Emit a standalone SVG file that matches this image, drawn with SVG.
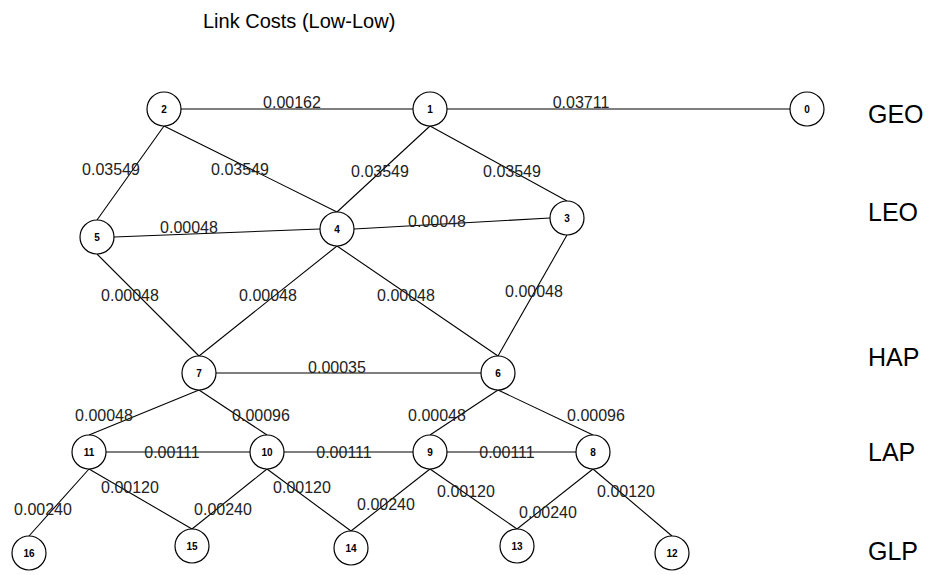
<svg xmlns="http://www.w3.org/2000/svg" width="932" height="575" viewBox="0 0 932 575">
<style>
.n circle{fill:#fff;stroke:#000;stroke-width:1.2}
.n text{font-family:"Liberation Sans",Arial,sans-serif;font-size:10px;font-weight:bold;text-anchor:middle}
#edges line{stroke:#000;stroke-width:1.1}
.lbl{font-family:"Liberation Sans",Arial,sans-serif;font-size:16px;fill:#222;text-anchor:middle}
.layer{font-family:"Liberation Sans",Arial,sans-serif;font-size:25px;fill:#000}
.title{font-family:"Liberation Sans",Arial,sans-serif;font-size:20px;fill:#000}
</style>
<rect width="932" height="575" fill="#fff"/>
<text class="title" x="203" y="28">Link Costs (Low-Low)</text>
<g id="edges">
<line x1="181" y1="109" x2="413" y2="109"/>
<line x1="447" y1="109" x2="790" y2="109"/>
<line x1="164" y1="126" x2="97" y2="220"/>
<line x1="164" y1="126" x2="337" y2="212"/>
<line x1="430" y1="126" x2="337" y2="212"/>
<line x1="430" y1="126" x2="567" y2="201"/>
<line x1="114" y1="237" x2="320" y2="229"/>
<line x1="354" y1="229" x2="550" y2="218"/>
<line x1="97" y1="254" x2="199" y2="356"/>
<line x1="337" y1="246" x2="199" y2="356"/>
<line x1="337" y1="246" x2="498" y2="356"/>
<line x1="567" y1="235" x2="498" y2="356"/>
<line x1="216" y1="373" x2="481" y2="373"/>
<line x1="199" y1="390" x2="89" y2="435"/>
<line x1="199" y1="390" x2="267" y2="435"/>
<line x1="498" y1="390" x2="430" y2="435"/>
<line x1="498" y1="390" x2="593" y2="435"/>
<line x1="106" y1="452" x2="250" y2="452"/>
<line x1="284" y1="452" x2="413" y2="452"/>
<line x1="447" y1="452" x2="576" y2="452"/>
<line x1="89" y1="469" x2="29" y2="536"/>
<line x1="89" y1="469" x2="192" y2="529"/>
<line x1="267" y1="469" x2="192" y2="529"/>
<line x1="267" y1="469" x2="351" y2="531"/>
<line x1="430" y1="469" x2="351" y2="531"/>
<line x1="430" y1="469" x2="517" y2="529"/>
<line x1="593" y1="469" x2="517" y2="529"/>
<line x1="593" y1="469" x2="672" y2="536"/>
</g>
<g id="labels">
<text class="lbl" x="292" y="108">0.00162</text>
<text class="lbl" x="581" y="108">0.03711</text>
<text class="lbl" x="111" y="175">0.03549</text>
<text class="lbl" x="240" y="175">0.03549</text>
<text class="lbl" x="380" y="177">0.03549</text>
<text class="lbl" x="512" y="177">0.03549</text>
<text class="lbl" x="189" y="233">0.00048</text>
<text class="lbl" x="437" y="227">0.00048</text>
<text class="lbl" x="130" y="301">0.00048</text>
<text class="lbl" x="268" y="301">0.00048</text>
<text class="lbl" x="406" y="301">0.00048</text>
<text class="lbl" x="534" y="297">0.00048</text>
<text class="lbl" x="337" y="373">0.00035</text>
<text class="lbl" x="104" y="421">0.00048</text>
<text class="lbl" x="261" y="421">0.00096</text>
<text class="lbl" x="437" y="421">0.00048</text>
<text class="lbl" x="596" y="421">0.00096</text>
<text class="lbl" x="172" y="458">0.00111</text>
<text class="lbl" x="344" y="458">0.00111</text>
<text class="lbl" x="507" y="458">0.00111</text>
<text class="lbl" x="130" y="493">0.00120</text>
<text class="lbl" x="302" y="493">0.00120</text>
<text class="lbl" x="466" y="497">0.00120</text>
<text class="lbl" x="626" y="497">0.00120</text>
<text class="lbl" x="43" y="515">0.00240</text>
<text class="lbl" x="223" y="515">0.00240</text>
<text class="lbl" x="386" y="510">0.00240</text>
<text class="lbl" x="548" y="518">0.00240</text>
</g>
<g id="n0" class="n"><circle cx="807" cy="109" r="17"/><text x="807" y="113">0</text></g>
<g id="n1" class="n"><circle cx="430" cy="109" r="17"/><text x="430" y="113">1</text></g>
<g id="n2" class="n"><circle cx="164" cy="109" r="17"/><text x="164" y="113">2</text></g>
<g id="n3" class="n"><circle cx="567" cy="218" r="17"/><text x="567" y="222">3</text></g>
<g id="n4" class="n"><circle cx="337" cy="229" r="17"/><text x="337" y="233">4</text></g>
<g id="n5" class="n"><circle cx="97" cy="237" r="17"/><text x="97" y="241">5</text></g>
<g id="n6" class="n"><circle cx="498" cy="373" r="17"/><text x="498" y="377">6</text></g>
<g id="n7" class="n"><circle cx="199" cy="373" r="17"/><text x="199" y="377">7</text></g>
<g id="n8" class="n"><circle cx="593" cy="452" r="17"/><text x="593" y="456">8</text></g>
<g id="n9" class="n"><circle cx="430" cy="452" r="17"/><text x="430" y="456">9</text></g>
<g id="n10" class="n"><circle cx="267" cy="452" r="17"/><text x="267" y="456">10</text></g>
<g id="n11" class="n"><circle cx="89" cy="452" r="17"/><text x="89" y="456">11</text></g>
<g id="n12" class="n"><circle cx="672" cy="553" r="17"/><text x="672" y="557">12</text></g>
<g id="n13" class="n"><circle cx="517" cy="546" r="17"/><text x="517" y="550">13</text></g>
<g id="n14" class="n"><circle cx="351" cy="548" r="17"/><text x="351" y="552">14</text></g>
<g id="n15" class="n"><circle cx="192" cy="546" r="17"/><text x="192" y="550">15</text></g>
<g id="n16" class="n"><circle cx="29" cy="553" r="17"/><text x="29" y="557">16</text></g>
<g id="layers">
<text class="layer" x="868" y="123">GEO</text>
<text class="layer" x="868" y="221">LEO</text>
<text class="layer" x="868" y="366">HAP</text>
<text class="layer" x="868" y="461">LAP</text>
<text class="layer" x="868" y="560">GLP</text>
</g>
</svg>
